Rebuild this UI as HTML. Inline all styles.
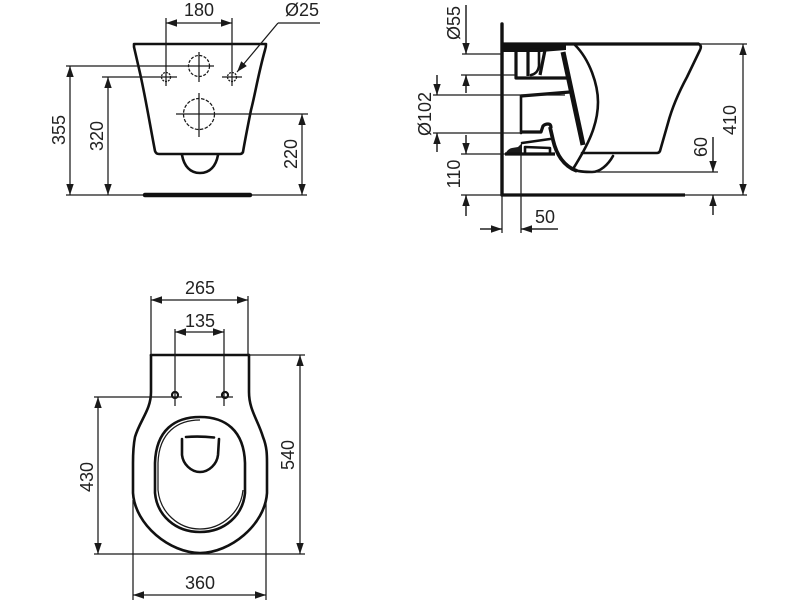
<!DOCTYPE html>
<html><head><meta charset="utf-8"><style>
html,body{margin:0;padding:0;background:#fff}
svg{display:block;filter:blur(.3px)}
text{font-family:"Liberation Sans",sans-serif;font-size:18px;fill:#222;text-anchor:middle}
.t{stroke:#1a1a1a;stroke-width:1.25;fill:none}
.o{stroke:#111;stroke-width:2.6;fill:none;stroke-linejoin:round;stroke-linecap:round}
.h{stroke:#111;stroke-width:3.2;fill:none;stroke-linejoin:round}
.d{stroke:#1a1a1a;stroke-width:1.25;fill:none;marker-end:url(#a)}
.b{stroke:#1a1a1a;stroke-width:1.25;fill:none;marker-start:url(#a);marker-end:url(#a)}
</style></head><body>
<svg width="798" height="600" viewBox="0 0 798 600" xmlns="http://www.w3.org/2000/svg">
<defs><marker id="a" markerUnits="userSpaceOnUse" markerWidth="12" markerHeight="8" refX="11" refY="4" orient="auto-start-reverse"><path d="M0 0.300L11 4L0 7.700Z" fill="#1a1a1a"/></marker></defs>

<!-- top left -->
<path class="o" d="M134 44H266Q266 47 265 50C258 75 255 95 251 110C248 125 245 140 243 152Q242 154 240 154H159Q156 154 155 151C150 125 146 100 140 73L134 47Z"/>
<path class="o" d="M182 155C184 166 190 173 200 173C210 173 216 166 218 155"/>
<path class="t" d="M66 195H307M166 18V86M232 18V86M66 66H214M199 52V82M102 77H177M222 77H242M176 114H308M199 93V137M278 23H320"/>
<path d="M145 195H250" stroke="#111" stroke-width="4.500" stroke-linecap="round"/>
<circle class="t" cx="199" cy="66" r="10.5" stroke-dasharray="3 1.5"/>
<circle class="t" cx="199" cy="114" r="15.5" stroke-dasharray="3.5 1.5"/>
<circle class="t" cx="166" cy="77" r="4.5" stroke-dasharray="2 1"/>
<circle class="t" cx="232" cy="77" r="4.5" stroke-dasharray="2 1"/>
<path class="b" d="M166 23H232"/>
<path class="d" d="M278 23L237 72"/>
<path class="b" d="M70 66V195"/>
<path class="b" d="M108 77V195"/>
<path class="b" d="M302 114V195"/>
<text x="199" y="16">180</text>
<text x="302" y="16">Ø25</text>
<text transform="translate(65,130) rotate(-90)">355</text>
<text transform="translate(103,136) rotate(-90)">320</text>
<text transform="translate(297,154) rotate(-90)">220</text>

<!-- top right -->
<path d="M502 24V195" stroke="#111" stroke-width="3.4" stroke-linecap="round"/>
<path class="h" d="M502 195H685" stroke-width="3.600"/>
<path class="h" d="M502 44H699" stroke-width="2.6"/>
<path class="o" d="M699 44Q702 46 700 50L687 77C680 90 672 108 668 123L660 151Q659 153 657 153H582"/>
<path class="o" stroke-width="2.2" d="M575 45C590 60 598 85 598 102C598 125 588 145 573 169"/>
<path class="o" d="M613 156C608 165 600 172 592 172C586 172 580 172 575 170"/>
<path d="M550 127L553 140C556 153 563 166 577 171" stroke="#111" stroke-width="3.800" fill="none"/>
<path class="h" d="M522 132H541L543 126Q545 124 548 124Q551 124 551 128" stroke-width="3"/>
<path d="M503 44H566V50L541 52H503Z" fill="#111"/>
<path class="h" d="M516 52V78H567"/>
<path class="h" d="M528 50V76"/>
<path class="o" d="M531 50H539L539 66C538 72 535 74 531 75" stroke-width="1.8"/>
<path class="h" d="M545 50L540 75"/>
<path d="M563 52L583 145" stroke="#111" stroke-width="5"/>
<path class="h" d="M521 96L570 92"/>
<path class="o" stroke-width="1.8" d="M521 96V133"/>
<path d="M505 155Q507 149 512 148L518 147L522 143V155Z" fill="#1a1a1a"/>
<path class="o" stroke-width="1.6" d="M522 143L550 139"/>
<path class="o" stroke-width="1.8" d="M525 153V147L550 148V153"/>
<path class="h" d="M505 154H555" stroke-width="2.6"/>
<path class="t" d="M466 5V54M462 54H502M461 75H515M466 75V93M437 75V95M433 95H565M433 133H521M437 133V152M466 135V154M461 154H505M461 195H502M466 195V216M502 195V233M521 145V233M480 229H502M521 229H558M590 172H718M685 195H747M700 44H747M713 137V172M713 195V215"/>
<path class="d" d="M466 5V54"/><path class="d" d="M466 93V75"/>
<path class="d" d="M437 75V95"/><path class="d" d="M437 152V133"/>
<path class="d" d="M466 135V154"/><path class="d" d="M466 216V195"/>
<path class="d" d="M480 229H502"/><path class="d" d="M558 229H521"/>
<path class="d" d="M713 137V172"/><path class="d" d="M713 215V195"/>
<path class="b" d="M743 44V195"/>
<text transform="translate(460,23) rotate(-90)">Ø55</text>
<text transform="translate(431,114) rotate(-90)">Ø102</text>
<text transform="translate(460,174) rotate(-90)">110</text>
<text x="545" y="223">50</text>
<text transform="translate(707,147) rotate(-90)">60</text>
<text transform="translate(736,120) rotate(-90)">410</text>

<!-- bottom -->
<path class="o" d="M151 355V392C151 410 140 420 135 437C133 447 133 455 133 463V493C135 525 170 553 200 553C230 553 265 525 267 493V463C267 455 267 447 263 437C258 420 249 410 249 392V355"/>
<path class="o" d="M151 355H249"/>
<path class="o" d="M200 417C175 417 156 430 155 463V493C157 515 175 532 200 532C225 532 243 515 245 493V463C244 430 225 417 200 417Z"/>
<path class="t" d="M200 420C178 420 159 432 158 463V490C160 512 178 529 200 529C222 529 241 512 243 490" stroke-width="1"/>
<path class="o" stroke-width="2" d="M182 439V455C183 464 191 472 200 472C209 472 217 464 218 455L219 439"/>
<path class="o" stroke-width="2.200" d="M186 437Q200 436 214 437.500"/>
<circle cx="175" cy="395" r="3" fill="none" stroke="#111" stroke-width="2.200"/>
<circle cx="225" cy="395" r="3" fill="none" stroke="#111" stroke-width="2.200"/>
<path class="t" d="M151 296V355M248 296V355M175 329V406M224 329V406M94 397H182M216 397H233M249 355H305M94 554H305M133 500V600M266 500V600"/>
<path class="b" d="M151 300H248"/>
<path class="b" d="M175 332H224"/>
<path class="b" d="M98 397V554"/>
<path class="b" d="M300 355V554"/>
<path class="b" d="M133 595H266"/>
<text x="200" y="294">265</text>
<text x="200" y="327">135</text>
<text transform="translate(93,477) rotate(-90)">430</text>
<text transform="translate(294,455) rotate(-90)">540</text>
<text x="200" y="589">360</text>
</svg>
</body></html>
